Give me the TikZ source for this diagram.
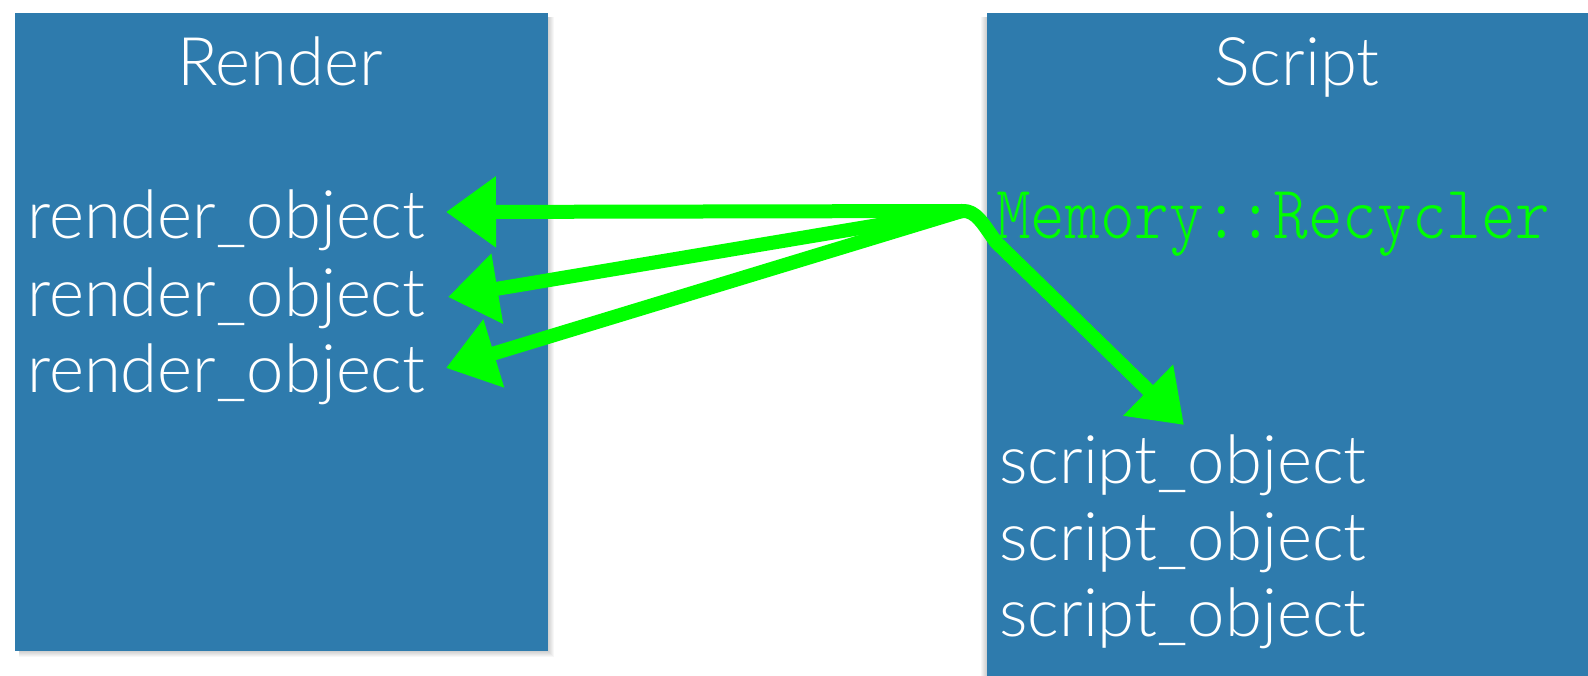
\documentclass[tikz,border=0pt]{standalone}
\usepackage{fontspec}
\setmainfont{Lato Light}
\newfontfamily\codefont{Latin Modern Mono Light}
\usetikzlibrary{arrows.meta}
\definecolor{boxblue}{HTML}{2E7BAD}
\definecolor{chalk}{HTML}{00FF00}
\tikzset{
  panel/.style={fill=boxblue, draw=none},
  title/.style={text=white, font=\fontsize{67}{67}\selectfont, inner sep=0pt, anchor=base},
  item/.style={text=white, font=\fontsize{67}{67}\selectfont, inner sep=0pt, anchor=base west},
  code/.style={text=chalk, font=\codefont\fontsize{66}{66}\selectfont, inner sep=0pt, anchor=base west, yscale=1.15},
  garrow/.style={draw=chalk, line width=14pt, line cap=round, line join=round, -{Triangle[length=50pt, width=68pt]}},
}
\begin{document}
\begin{tikzpicture}[x=1pt, y=-1pt]
\useasboundingbox (0,0) rectangle (1588,676);
\fill[white] (0,0) rectangle (1588,676);
% soft shadows
\foreach \i in {1,...,6} {
  \fill[black, opacity=0.03] (19, 17) rectangle (548+\i, 651+\i);
  \fill[black, opacity=0.03] (987-\i, 17) rectangle (1600, 690);
}
\fill[panel] (15,13) rectangle (548,651);
\fill[panel] (987,13) rectangle (1600,690);
% texts
\node[title] (render) at (280,86) {Render};
\node[title] (script) at (1297,86) {Script};
\node[item] (r1) at (27,239) {render\_object};
\node[item] (r2) at (27,317) {render\_object};
\node[item] (r3) at (27,392) {render\_object};
\node[item] (s1) at (999,483) {script\_object};
\node[item] (s2) at (999,560) {script\_object};
\node[item] (s3) at (999,636) {script\_object};
\node[code] (mem) at (996,239) {Memory::Recycler};
% arrows
\coordinate (hub) at (962,211);
\coordinate (t1) at (446,212);
\coordinate (t2) at (448,297);
\coordinate (t3) at (446,368);
\coordinate (t4) at (1184,425);
\draw[garrow] (hub) -- (t1);
\draw[garrow] (hub) -- (t2);
\draw[garrow] (hub) -- (t3);
\draw[garrow] (hub) .. controls (976,210) and (983,224) .. (996,242) -- (t4);
\end{tikzpicture}
\end{document}
